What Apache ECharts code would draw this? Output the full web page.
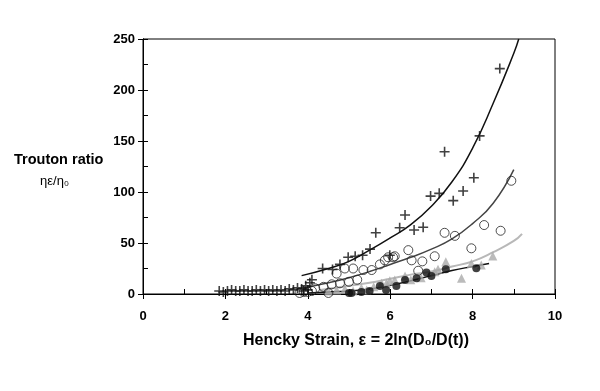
<!DOCTYPE html>
<html><head><meta charset="utf-8">
<script src="https://cdn.jsdelivr.net/npm/echarts@6/dist/echarts.min.js"></script>
<style>html,body{margin:0;padding:0;background:#fff}#c{width:600px;height:391px}</style>
</head><body><div id="c"></div>
<script>
// Tick values
const xTicks = [0, 2, 4, 6, 8, 10];
const yTicks = [0, 50, 100, 150, 200, 250];

// "+" markers
const plusX = [1.85,1.95,2.05,2.15,2.25,2.35,2.45,2.55,2.65,2.75,2.85,2.95,3.05,3.15,3.25,3.35,3.45,3.55,3.65,3.75,3.85,3.9,3.95,4.0,4.05,4.10,4.36,4.6,4.78,4.98,5.15,5.33,5.51,5.65,5.99,6.23,6.36,6.58,6.8,6.98,7.19,7.32,7.53,7.77,8.03,8.17,8.66];
const plusY = [3,2,3,4,3,3,4,3,3,4,3,4,3,4,3,4,3,5,4,6,5,3,8,4,11,14,25,24,29,36,37,38,44,60,38,65,77.5,62.7,65.4,96,98.7,139.5,91.5,101,114,155,221];

// open circles
const circX = [3.8,3.9,4.0,4.1,4.18,4.38,4.5,4.58,4.7,4.78,4.9,5.0,5.1,5.2,5.35,5.55,5.75,5.87,5.95,6.07,6.11,6.44,6.52,6.68,6.78,7.08,7.32,7.57,7.97,8.28,8.68,8.94];
const circY = [1,2,2,3,5.6,7,1,9.5,20,10.5,25,12,25,14,23.5,23.5,29,33,36,36,37,43,33,22.8,32,37,60,57,44.8,67.6,62,111];

// grey triangles
const triX = [4.5,4.7,4.9,5.1,5.3,5.43,5.6,5.79,5.91,5.99,6.11,6.36,6.5,6.75,7.08,7.16,7.35,7.73,7.97,8.21,8.49];
const triY = [3,4,5,3,6,4,7,10.5,10.5,13,13.7,17.6,14,16,21.9,24.2,31.7,15.4,30,28.4,37.3];

// black filled circles
const dotX = [5.0,5.06,5.3,5.5,5.75,5.9,6.15,6.36,6.64,6.88,7.0,7.35,8.09];
const dotY = [1,1,2,3,7.8,4,7.8,13.7,15.4,21,17.6,24.2,25.2];

// fitted curves
const fit1X = [3.85,4.5,5.0,5.5,6.0,6.5,7.0,7.5,8.0,8.5,9.0,9.12];
const fit1Y = [18,25,32,43,55,68,86,110,143,187,236,250];
const fit2X = [3.9,4.5,5.0,5.5,6.0,6.5,7.0,7.5,8.0,8.5,9.0];
const fit2Y = [6,11,16,22,29,36,44,54,69,89,122];
const fit3X = [4.3,5.0,5.5,6.0,6.5,7.0,7.5,8.0,8.5,9.0,9.2];
const fit3Y = [4,8,11,15,19,22,27,32,41,52,59];
const fit4X = [4.0,4.5,5.0,5.5,6.0,6.5,7.0,7.5,8.0,8.4];
const fit4Y = [1,2,3,5,8.5,13,18,23,27,30];

const zip = (a, b) => a.map((v, i) => [v, b[i]]);
const FONT = '"Liberation Sans", Arial, sans-serif';
const plusPath = 'path://M4.2,0H5.8V4.2H10V5.8H5.8V10H4.2V5.8H0V4.2H4.2Z';

const chart = echarts.init(document.getElementById('c'));
const axisLineStyle = {lineStyle: {color: '#000', width: 1}};
chart.setOption({
  animation: false,
  backgroundColor: '#fff',
  grid: {left: 143, right: 45, top: 39, bottom: 97, show: true, borderColor: '#000', borderWidth: 1},
  xAxis: [{
    type: 'value', min: xTicks[0], max: xTicks[xTicks.length-1], interval: 2, position: 'bottom',
    axisLine: axisLineStyle, splitLine: {show: false},
    axisTick: {show: true, inside: false, length: 5, lineStyle: {color: '#000'}},
    axisLabel: {margin: 16, fontFamily: FONT, fontWeight: 'bold', fontSize: 13, color: '#000'}
  }, {
    type: 'value', min: xTicks[0], max: xTicks[xTicks.length-1], interval: 2, position: 'bottom', offset: 0,
    axisLine: axisLineStyle, splitLine: {show: false},
    axisTick: {show: true, inside: true, length: 5, lineStyle: {color: '#000'}},
    minorTick: {show: true, splitNumber: 2, length: 5, lineStyle: {color: '#000'}},
    axisLabel: {show: false}
  }],
  yAxis: [{
    type: 'value', min: yTicks[0], max: yTicks[yTicks.length-1], interval: 50, position: 'left',
    axisLine: {show: true, lineStyle: {color: '#000'}}, splitLine: {show: false},
    axisTick: {show: true, inside: false, length: 5, lineStyle: {color: '#000'}},
    axisLabel: {margin: 8, fontFamily: FONT, fontWeight: 'bold', fontSize: 13, color: '#000'}
  }, {
    type: 'value', min: yTicks[0], max: yTicks[yTicks.length-1], interval: 50, position: 'left', offset: 0,
    axisLine: {show: true, lineStyle: {color: '#000'}}, splitLine: {show: false},
    axisTick: {show: true, inside: true, length: 5, lineStyle: {color: '#000'}},
    minorTick: {show: true, splitNumber: 2, length: 5, lineStyle: {color: '#000'}},
    axisLabel: {show: false}
  }],
  graphic: [
    {type: 'text', left: 14, top: 152, style: {text: 'Trouton ratio', font: 'bold 14.5px ' + FONT, fill: '#000'}},
    {type: 'text', left: 40, top: 175, style: {text: 'ηε/η₀', font: '13px ' + FONT, fill: '#000'}},
    {type: 'text', left: 243, top: 333, style: {text: 'Hencky Strain, ε = 2ln(D₀/D(t))', font: 'bold 16px ' + FONT, fill: '#000'}}
  ],
  series: [
    {type: 'line', data: zip(fit4X, fit4Y), smooth: true, showSymbol: false, symbol: 'none', lineStyle: {color: '#111', width: 1.5}, z: 3},
    {type: 'line', data: zip(fit3X, fit3Y), smooth: true, showSymbol: false, symbol: 'none', lineStyle: {color: '#b8b8b8', width: 2}, z: 3},
    {type: 'line', data: zip(fit2X, fit2Y), smooth: true, showSymbol: false, symbol: 'none', lineStyle: {color: '#444', width: 1.5}, z: 3},
    {type: 'line', data: zip(fit1X, fit1Y), smooth: true, showSymbol: false, symbol: 'none', lineStyle: {color: '#111', width: 1.5}, z: 3},
    {type: 'scatter', data: zip(triX, triY), symbol: 'triangle', symbolSize: 9, itemStyle: {color: '#aaaaaa'}, z: 4},
    {type: 'scatter', data: zip(dotX, dotY), symbol: 'circle', symbolSize: 8, itemStyle: {color: '#111'}, z: 5},
    {type: 'scatter', data: zip(circX, circY), symbol: 'circle', symbolSize: 9, itemStyle: {color: 'rgba(255,255,255,0)', borderColor: '#222', borderWidth: 1}, z: 5},
    {type: 'scatter', data: zip(plusX, plusY), symbol: plusPath, symbolSize: 10, itemStyle: {color: '#111'}, z: 6}
  ]
});
</script></body></html>
